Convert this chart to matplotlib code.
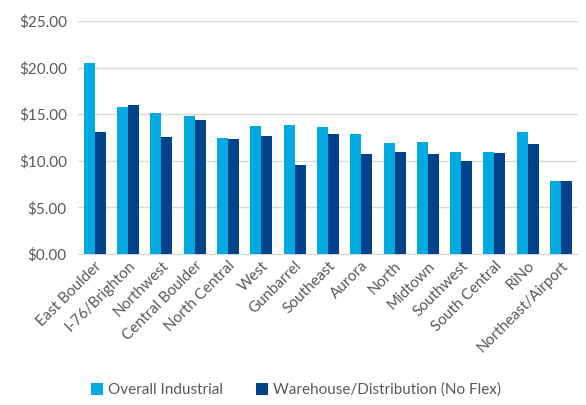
import numpy as np
import matplotlib.pyplot as plt
from matplotlib.ticker import FuncFormatter

plt.rcParams['font.family'] = ['Lato', 'DejaVu Sans']

# Submarkets and asking rents ($/SF)
submarkets = ['East Boulder', 'I-76/Brighton', 'Northwest', 'Central Boulder', 'North Central',
              'West', 'Gunbarrel', 'Southeast', 'Aurora', 'North', 'Midtown', 'Southwest',
              'South Central', 'RiNo', 'Northeast/Airport']
overall = [20.50, 15.75, 15.18, 14.86, 12.40, 13.72, 13.86, 13.58, 12.83, 11.90, 12.00, 10.90,
           10.90, 13.07, 7.86]
warehouse = [13.07, 15.97, 12.50, 14.33, 12.29, 12.61, 9.54, 12.83, 10.69, 10.97, 10.75, 9.93,
             10.86, 11.76, 7.79]

light = '#00A9E0'
dark = '#00438A'
txt = '#595959'

fig = plt.figure(figsize=(5.86, 4.05), dpi=100)
ax = fig.add_axes([0.133, 0.373, 0.853, 0.575])

x = np.arange(len(submarkets))
w = 0.33
ax.bar(x - w / 2, overall, w, color=light, label='Overall Industrial', zorder=3)
ax.bar(x + w / 2, warehouse, w, color=dark, label='Warehouse/Distribution (No Flex)', zorder=3)

ax.set_ylim(0, 25)
ax.set_xlim(-0.5, len(submarkets) - 0.5)
ax.set_yticks(np.arange(0, 26, 5))
ax.yaxis.set_major_formatter(FuncFormatter(lambda v, p: f'${v:.2f}'))
ax.grid(axis='y', color='#D9D9D9', linewidth=1, zorder=0)
for s in ['top', 'right', 'left']:
    ax.spines[s].set_visible(False)
ax.spines['bottom'].set_color('#D9D9D9')
ax.tick_params(length=0, colors=txt, labelsize=11)
ax.tick_params(axis='y', pad=8)
ax.set_xticks(x)
ax.set_xticklabels(submarkets, rotation=45, ha='right', rotation_mode='anchor')

fig.legend(loc='center', bbox_to_anchor=(0.505, 0.037), ncol=2, frameon=False,
           fontsize=11, labelcolor=txt, handlelength=0.8, handleheight=0.8,
           handletextpad=0.3, columnspacing=2.2)

fig.savefig('out.png', dpi=100)
